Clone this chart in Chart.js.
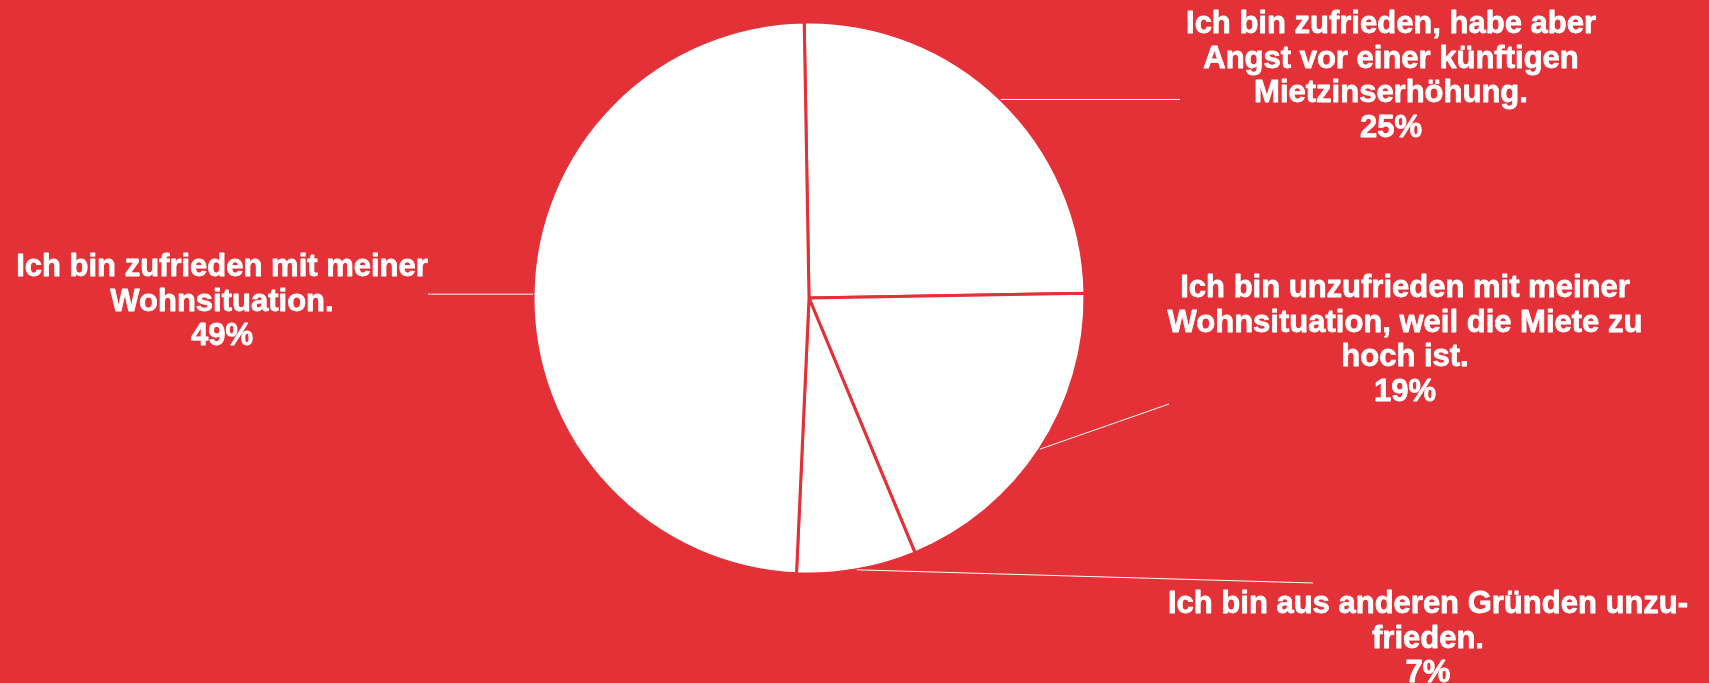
<!DOCTYPE html>
<html lang="de">
<head>
<meta charset="utf-8">
<title>Wohnsituation</title>
<script src="https://cdn.jsdelivr.net/npm/chart.js@4.4.1/dist/chart.umd.min.js"></script>
<style>
  html, body { margin: 0; padding: 0; background: #e43037; }
  #wrap { position: relative; width: 1709px; height: 683px; }
</style>
</head>
<body>
<div id="wrap"><canvas id="pie"></canvas></div>
<script>
// Antworten (Zeilenumbrüche wie im Original)
const categories = [
    ['Ich bin zufrieden, habe aber', 'Angst vor einer künftigen', 'Mietzinserhöhung.'],
    ['Ich bin unzufrieden mit meiner', 'Wohnsituation, weil die Miete zu', 'hoch ist.'],
    ['Ich bin aus anderen Gründen unzu-', 'frieden.'],
    ['Ich bin zufrieden mit meiner', 'Wohnsituation.']
];
const values = [25, 19, 7, 49];
const percentLabels = ['25%', '19%', '7%', '49%'];

const BG = '#e43037';

// Beschriftungen: Ende der Führungslinie (y = null -> waagrecht) + Textmitte / erste Grundlinie
const labelLayout = [
    { lineEnd: [1180, null], text: [1391, 33] },
    { lineEnd: [1169, 404], text: [1405, 297] },
    { lineEnd: [1313, 583], text: [1428, 613] },
    { lineEnd: [428, null], text: [222, 276] }
];

const calloutPlugin = {
    id: 'callouts',
    afterDatasetsDraw(chart) {
        const ctx = chart.ctx;
        const arcs = chart.getDatasetMeta(0).data;
        ctx.save();
        arcs.forEach((arc, i) => {
            const p = arc.getProps(['x', 'y', 'startAngle', 'endAngle', 'outerRadius'], true);
            const mid = (p.startAngle + p.endAngle) / 2;
            const sx = p.x + Math.cos(mid) * p.outerRadius;
            const sy = p.y + Math.sin(mid) * p.outerRadius;
            const lay = labelLayout[i];
            const ey = lay.lineEnd[1] === null ? sy : lay.lineEnd[1];

            // Führungslinie
            ctx.strokeStyle = '#fff';
            ctx.lineWidth = 1;
            ctx.beginPath();
            ctx.moveTo(sx, sy);
            ctx.lineTo(lay.lineEnd[0], ey);
            ctx.stroke();

            // Text (leicht nachgezogen, damit er so kräftig wirkt wie im Original)
            ctx.fillStyle = '#fff';
            ctx.strokeStyle = '#fff';
            ctx.lineWidth = 0.8;
            ctx.lineJoin = 'round';
            ctx.font = 'bold 31px "Liberation Sans", Arial, sans-serif';
            ctx.textAlign = 'center';
            ctx.textBaseline = 'alphabetic';
            const lines = categories[i].concat(percentLabels[i]);
            lines.forEach((t, j) => {
                const ty = lay.text[1] + j * 34.5;
                ctx.fillText(t, lay.text[0], ty);
                ctx.strokeText(t, lay.text[0], ty);
            });
        });
        ctx.restore();
    }
};

new Chart(document.getElementById('pie'), {
    type: 'pie',
    data: {
        labels: categories,
        datasets: [{
            data: values,
            backgroundColor: '#ffffff',
            borderColor: BG,
            borderWidth: 3,
            hoverOffset: 0
        }]
    },
    options: {
        responsive: true,
        maintainAspectRatio: false,
        animation: false,
        rotation: -1,
        radius: 276,
        layout: { padding: { top: 22, bottom: 109, left: 0, right: 91 } },
        plugins: {
            legend: { display: false },
            tooltip: { enabled: false }
        }
    },
    plugins: [calloutPlugin]
});
</script>
</body>
</html>
